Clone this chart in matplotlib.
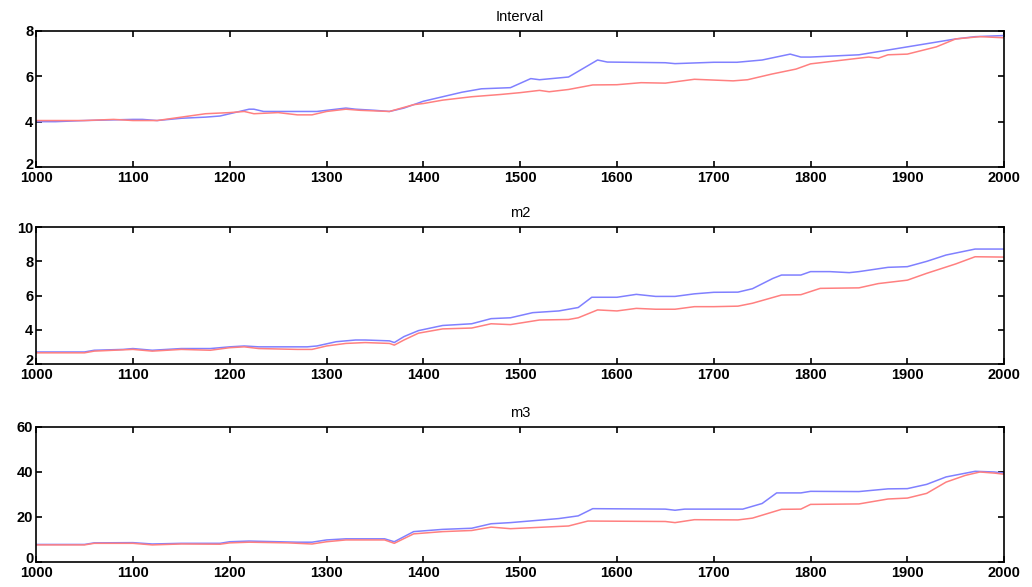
from matplotlib import pyplot as plt
from matplotlib.transforms import ScaledTranslation

plt.rcParams['font.family'] = ['Liberation Sans', 'DejaVu Sans']

##################### {[ DATA ]} #####################

# Interval
int_blue_x = [1000, 1020, 1050, 1100, 1110, 1125, 1150, 1175, 1190, 1200, 1220, 1225, 1235, 1260, 1290,
              1320, 1330, 1350, 1365, 1380, 1400, 1420, 1440, 1460, 1490, 1511, 1520, 1550, 1580, 1590,
              1650, 1660, 1700, 1724, 1750, 1779, 1790, 1800, 1850, 1900, 1950, 1970, 2000]
int_blue_y = [4.0, 4.0, 4.05, 4.1, 4.1, 4.05, 4.15, 4.2, 4.25, 4.35, 4.55, 4.55, 4.45, 4.45, 4.45,
              4.6, 4.55, 4.5, 4.45, 4.6, 4.9, 5.1, 5.3, 5.45, 5.5, 5.9, 5.85, 5.97, 6.72, 6.63,
              6.6, 6.56, 6.62, 6.62, 6.72, 6.98, 6.85, 6.85, 6.95, 7.3, 7.65, 7.75, 7.8]
int_red_x = [1000, 1050, 1080, 1100, 1125, 1150, 1175, 1200, 1215, 1225, 1250, 1270, 1285, 1300, 1320,
             1335, 1365, 1390, 1400, 1420, 1450, 1480, 1500, 1520, 1530, 1550, 1575, 1600, 1625, 1650,
             1680, 1720, 1735, 1760, 1785, 1800, 1830, 1860, 1870, 1880, 1900, 1930, 1950, 1975, 2000]
int_red_y = [4.05, 4.05, 4.1, 4.05, 4.05, 4.2, 4.35, 4.4, 4.45, 4.35, 4.4, 4.3, 4.3, 4.45, 4.55,
             4.5, 4.45, 4.75, 4.8, 4.95, 5.1, 5.2, 5.28, 5.38, 5.32, 5.42, 5.62, 5.63, 5.72, 5.7,
             5.87, 5.8, 5.85, 6.1, 6.32, 6.55, 6.7, 6.85, 6.8, 6.95, 6.98, 7.3, 7.65, 7.75, 7.7]

# m2
m2_blue_x = [1000, 1050, 1060, 1090, 1100, 1120, 1150, 1180, 1200, 1215, 1230, 1280, 1290, 1310, 1330,
             1340, 1365, 1370, 1380, 1395, 1420, 1450, 1470, 1490, 1513, 1540, 1560, 1574, 1600, 1620,
             1640, 1660, 1680, 1700, 1725, 1740, 1761, 1770, 1790, 1800, 1820, 1840, 1850, 1880, 1900,
             1920, 1940, 1970, 2000]
m2_blue_y = [2.7, 2.7, 2.8, 2.85, 2.9, 2.8, 2.9, 2.9, 3.0, 3.05, 3.0, 3.0, 3.05, 3.3, 3.4,
             3.4, 3.35, 3.25, 3.6, 3.95, 4.25, 4.35, 4.65, 4.7, 5.0, 5.1, 5.3, 5.9, 5.9, 6.07,
             5.95, 5.95, 6.1, 6.19, 6.2, 6.4, 7.0, 7.2, 7.2, 7.4, 7.4, 7.34, 7.4, 7.65, 7.69,
             8.0, 8.37, 8.72, 8.72]
m2_red_x = [1000, 1050, 1060, 1100, 1120, 1150, 1180, 1200, 1215, 1230, 1270, 1285, 1300, 1320, 1340,
            1365, 1370, 1380, 1395, 1420, 1450, 1470, 1490, 1520, 1550, 1560, 1580, 1600, 1620, 1640,
            1660, 1680, 1700, 1725, 1740, 1770, 1790, 1810, 1850, 1870, 1900, 1920, 1950, 1970, 2000]
m2_red_y = [2.65, 2.65, 2.75, 2.85, 2.75, 2.85, 2.8, 2.95, 3.0, 2.9, 2.85, 2.85, 3.05, 3.2, 3.25,
            3.2, 3.1, 3.4, 3.8, 4.05, 4.1, 4.35, 4.3, 4.57, 4.6, 4.7, 5.16, 5.1, 5.25, 5.2,
            5.2, 5.35, 5.35, 5.38, 5.55, 6.03, 6.05, 6.42, 6.45, 6.7, 6.9, 7.3, 7.85, 8.27, 8.25]

# m3
m3_blue_x = [1000, 1050, 1060, 1100, 1120, 1150, 1190, 1200, 1220, 1270, 1285, 1300, 1320, 1360, 1370,
             1390, 1420, 1450, 1470, 1490, 1540, 1560, 1575, 1650, 1660, 1670, 1730, 1750, 1765, 1790,
             1800, 1850, 1880, 1900, 1920, 1940, 1970, 1990, 2000]
m3_blue_y = [7.8, 7.8, 8.5, 8.6, 8.0, 8.3, 8.3, 9.0, 9.3, 8.8, 8.8, 9.8, 10.3, 10.3, 9.0,
             13.5, 14.5, 15.0, 17.0, 17.5, 19.3, 20.5, 23.7, 23.5, 23.0, 23.5, 23.5, 26.0, 30.7, 30.7,
             31.4, 31.3, 32.5, 32.6, 34.5, 37.8, 40.3, 40.0, 39.5]
m3_red_x = [1000, 1050, 1060, 1100, 1120, 1150, 1190, 1200, 1220, 1260, 1285, 1300, 1320, 1360, 1370,
            1390, 1420, 1450, 1470, 1490, 1550, 1570, 1650, 1660, 1680, 1725, 1740, 1770, 1790, 1800,
            1850, 1880, 1900, 1920, 1940, 1960, 1975, 1990, 2000]
m3_red_y = [7.6, 7.6, 8.3, 8.3, 7.6, 8.0, 7.9, 8.5, 8.8, 8.5, 8.0, 9.0, 9.8, 9.8, 8.3,
            12.5, 13.5, 14.0, 15.5, 14.8, 16.0, 18.2, 18.0, 17.5, 18.8, 18.7, 19.5, 23.4, 23.5, 25.6,
            25.8, 28.0, 28.4, 30.5, 35.5, 38.5, 40.0, 39.5, 39.0]

panels = [
    ("Interval", int_blue_x, int_blue_y, int_red_x, int_red_y, (2, 8), [2, 4, 6, 8]),
    ("m2", m2_blue_x, m2_blue_y, m2_red_x, m2_red_y, (2, 10), [2, 4, 6, 8, 10]),
    ("m3", m3_blue_x, m3_blue_y, m3_red_x, m3_red_y, (0, 60), [0, 20, 40, 60]),
]
x_ticks = [1000, 1100, 1200, 1300, 1400, 1500, 1600, 1700, 1800, 1900, 2000]

##################### {[ PLOT ]} #####################

fig = plt.figure(figsize=(10.32, 5.87), dpi=100)
boxes = [[0.035, 0.7155, 0.938, 0.2317],
         [0.035, 0.380, 0.938, 0.233],
         [0.035, 0.0426, 0.938, 0.230]]

for box, (title, bx, by, rx, ry, ylim, yticks) in zip(boxes, panels):
    ax = fig.add_axes(box)
    ax.plot(bx, by, color='#8080ff', lw=1.1)
    ax.plot(rx, ry, color='#ff8080', lw=1.1)
    ax.set_xlim(1000, 2000)
    ax.set_ylim(*ylim)
    ax.set_xticks(x_ticks)
    ax.set_yticks(yticks)
    ax.tick_params(direction='in', top=True, right=True, length=4, width=1.2,
                   labelsize=10.5, pad=2)
    ax.tick_params(axis='x', pad=3)
    for lab in ax.get_xticklabels() + ax.get_yticklabels():
        lab.set_fontweight('bold')
    # lowest y label sits just above the x labels, as in the original
    low = ax.get_yticklabels()[0]
    low.set_transform(low.get_transform() + ScaledTranslation(0, 4 / 100, fig.dpi_scale_trans))
    for s in ax.spines.values():
        s.set_linewidth(1.2)
    ax.set_title(title, fontsize=10.5, pad=7)

plt.savefig("out.png", dpi=100)
